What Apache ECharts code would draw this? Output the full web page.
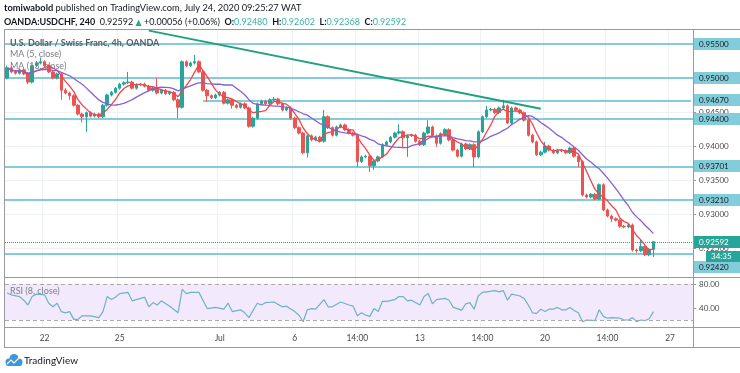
<!DOCTYPE html>
<html><head><meta charset="utf-8">
<script src="https://cdn.jsdelivr.net/npm/echarts@6/dist/echarts.min.js"></script>
<style>html,body{margin:0;padding:0;background:#fff}#c{width:740px;height:373px}</style>
</head><body><div id="c"></div>
<script>
// ---------- DATA ----------
const opens = [.9500,.9515,.9509,.9507,.9512,.9506,.9494,.9518,.9522,.9524,
.9518,.9509,.9500,.9506,.9482,.9478,.9474,.9460,.9447,.9443,
.9449,.9444,.9447,.9443,.9460,.9475,.9479,.9485,.9491,.9493,
.9494,.9485,.9490,.9491,.9488,.9482,.9485,.9478,.9482,.9477,
.9479,.9468,.9457,.9524,.9518,.9522,.9524,.9509,.9482,.9474,
.9471,.9475,.9479,.9463,.9468,.9460,.9457,.9462,.9456,.9429,
.9441,.9462,.9466,.9462,.9468,.9469,.9462,.9453,.9456,.9441,
.9427,.9419,.9390,.9415,.9409,.9413,.9407,.9443,.9427,.9416,
.9428,.9431,.9424,.9419,.9416,.9377,.9384,.9385,.9371,.9378,
.9384,.9402,.9406,.9413,.9419,.9421,.9412,.9415,.9416,.9407,
.9402,.9419,.9428,.9415,.9404,.9418,.9424,.9409,.9394,.9385,
.9403,.9396,.9402,.9384,.9421,.9443,.9453,.9454,.9449,.9456,
.9459,.9434,.9456,.9453,.9449,.9438,.9416,.9406,.9387,.9391,
.9400,.9394,.9390,.9394,.9393,.9390,.9397,.9385,.9377,.9328,
.9325,.9329,.9322,.9343,.9306,.9297,.9293,.9291,.9282,.9281,
.9284,.9247,.9246,.9252,.9240,.92480];
const closes = [.9515,.9509,.9507,.9512,.9506,.9494,.9518,.9522,.9524,.9518,
.9509,.9500,.9506,.9482,.9478,.9474,.9460,.9447,.9443,.9449,
.9444,.9447,.9443,.9460,.9475,.9479,.9485,.9491,.9493,.9494,
.9485,.9490,.9491,.9488,.9482,.9485,.9478,.9482,.9477,.9479,
.9468,.9457,.9524,.9518,.9522,.9524,.9509,.9482,.9474,.9471,
.9475,.9479,.9463,.9468,.9460,.9457,.9462,.9456,.9429,.9441,
.9462,.9466,.9462,.9468,.9469,.9462,.9453,.9456,.9441,.9427,
.9419,.9390,.9415,.9409,.9413,.9407,.9443,.9427,.9416,.9428,
.9431,.9424,.9419,.9416,.9377,.9384,.9385,.9371,.9378,.9384,
.9402,.9406,.9413,.9419,.9421,.9412,.9415,.9416,.9407,.9402,
.9419,.9428,.9415,.9404,.9418,.9424,.9409,.9394,.9385,.9403,
.9396,.9402,.9384,.9421,.9443,.9453,.9454,.9449,.9456,.9459,
.9434,.9456,.9453,.9449,.9438,.9416,.9406,.9387,.9391,.9400,
.9394,.9390,.9394,.9393,.9390,.9397,.9385,.9377,.9328,.9325,
.9329,.9322,.9343,.9306,.9297,.9293,.9291,.9282,.9281,.9284,
.9247,.9246,.9252,.9240,.9248,.92592];
const highs = [.9518,.9517,.9511,.9514,.9514,.9508,.9520,.9525,.9530,.9526,
.9520,.9511,.9508,.9508,.9485,.9480,.9476,.9462,.9449,.9451,
.9451,.9449,.9449,.9462,.9477,.9481,.9487,.9493,.9495,.9509,
.9496,.9492,.9493,.9493,.9490,.9487,.9500,.9484,.9484,.9481,
.9481,.9470,.9526,.9526,.9524,.9534,.9526,.9511,.9484,.9476,
.9477,.9481,.9481,.9470,.9470,.9462,.9464,.9464,.9458,.9443,
.9464,.9468,.9468,.9470,.9472,.9471,.9464,.9458,.9458,.9443,
.9429,.9421,.9417,.9417,.9415,.9415,.9453,.9445,.9429,.9430,
.9433,.9433,.9426,.9421,.9418,.9386,.9387,.9387,.9380,.9386,
.9404,.9408,.9415,.9421,.9432,.9423,.9417,.9418,.9418,.9409,
.9421,.9438,.9430,.9417,.9420,.9426,.9426,.9411,.9396,.9405,
.9405,.9404,.9404,.9423,.9445,.9459,.9456,.9456,.9458,.9468,
.9461,.9458,.9458,.9455,.9451,.9440,.9418,.9408,.9393,.9406,
.9402,.9396,.9396,.9396,.9395,.9399,.9399,.9387,.9379,.9330,
.9331,.9331,.9345,.9345,.9308,.9299,.9295,.9293,.9284,.9286,
.9286,.9249,.9262,.9254,.9250,.92602];
const lows = [.9498,.9507,.9505,.9505,.9504,.9491,.9492,.9516,.9520,.9516,
.9507,.9498,.9498,.9468,.9476,.9468,.9458,.9445,.9435,.9421,
.9442,.9442,.9441,.9441,.9458,.9473,.9477,.9483,.9489,.9491,
.9483,.9483,.9488,.9486,.9480,.9480,.9476,.9476,.9475,.9475,
.9466,.9441,.9455,.9516,.9516,.9520,.9507,.9480,.9465,.9469,
.9469,.9473,.9461,.9461,.9455,.9455,.9455,.9454,.9427,.9427,
.9439,.9460,.9460,.9460,.9466,.9460,.9451,.9451,.9438,.9425,
.9417,.9388,.9383,.9407,.9407,.9405,.9405,.9425,.9414,.9414,
.9426,.9422,.9417,.9414,.9369,.9375,.9382,.9362,.9365,.9376,
.9382,.9400,.9404,.9411,.9417,.9397,.9384,.9413,.9405,.9400,
.9400,.9417,.9413,.9399,.9402,.9416,.9407,.9392,.9383,.9383,
.9394,.9394,.9369,.9382,.9419,.9441,.9451,.9447,.9447,.9454,
.9432,.9432,.9451,.9447,.9436,.9414,.9404,.9385,.9385,.9389,
.9392,.9388,.9388,.9391,.9388,.9388,.9383,.9369,.9326,.9323,
.9323,.9320,.9320,.9304,.9295,.9288,.9289,.9280,.9279,.9279,
.9245,.9243,.9244,.9238,.9238,.92368];
// RSI(8) vertices: [slot, value]
const rsiPoints = [[0,65],[1,62],[3,59],[4,53],[5,45],[6,59],[7,63],[9,62],[10,48],[11,42],[12,48],[13,34],[14,32],[15,34],[16,21],[17,21],[18,27],[20,27],[22,24],[23,34],[24,59],[25,54],[26,58],[27,64],[29,66],[30,52],[31,54],[33,58],[34,42],[35,49],[36,45],[37,52],[39,43],[41,32],[42,71],[43,64],[44,66],[46,66],[48,39],[50,41],[52,38],[53,48],[54,34],[56,37],[57,32],[58,24],[60,48],[61,45],[62,49],[64,50],[66,42],[67,43],[69,34],[70,28],[71,17],[72,37],[73,39],[74,38],[76,54],[77,42],[78,42],[80,50],[82,45],[83,43],[84,27],[85,32],[86,28],[87,26],[88,39],[89,34],[90,51],[91,51],[93,54],[94,59],[95,59],[96,52],[97,53],[99,45],[100,59],[101,64],[102,47],[103,54],[105,56],[106,53],[107,41],[108,39],[109,36],[110,47],[111,49],[112,38],[113,60],[114,66],[115,67],[117,69],[118,67],[119,69],[120,53],[121,63],[123,60],[124,56],[125,45],[126,32],[127,31],[128,38],[129,34],[130,38],[131,38],[132,41],[133,37],[134,37],[135,41],[136,36],[137,32],[138,17],[139,20],[141,19],[142,37],[143,26],[144,23],[145,24],[147,23],[148,20],[149,20],[150,24],[151,17],[152,20],[153,19],[154,22],[155,34]];
const tickIdx = [9,27,51,69,84,99,114,129,144,159];
const tickText = ['22','25','Jul','6','14:00','13','14:00','20','14:00','27'];
const priceTicks = [0.955,0.950,0.945,0.940,0.935,0.930,0.925];
const levels = [0.955,0.950,0.944,0.93701,0.9321,0.9242];
const partialLevel = {startSlot:47, endSlot:164, price:0.9467};
const trendLine = [[34,0.95697],[128,0.94548]];
const rsiTicks = [40,80];
const rsiBand = [20,80];
const SLOTS = 165;
const MA_FAST = 5, MA_SLOW = 13;

// ---------- CHART ----------
const FONT = 'Lato, "DejaVu Sans", sans-serif';
const UP='#26a69a', DOWN='#ef5350', LEVEL='#82cdd9', FRAME='#9a9a9a', TXT='#4a4a4a', GRID='#edf1f7';
const chart = echarts.init(document.getElementById('c'), null, {renderer:'canvas'});
const cats = Array.from({length:SLOTS}, (_, i) => String(i));
const candle = closes.map((c, i) => [opens[i], c, lows[i], highs[i]]);
function ma(n){
  return closes.map((_, i) => { const s = Math.max(0, i-n+1); let t = 0; for (let j=s;j<=i;j++) t += closes[j]; return +(t/(i-s+1)).toFixed(5); });
}
const isTick = (i) => tickIdx.indexOf(i) >= 0;
const last = closes.length - 1;

const option = {
  animation:false,
  backgroundColor:'#ffffff',
  textStyle:{fontFamily:FONT},
  grid:[{left:5,right:47,top:30,height:248},{left:5,right:47,top:278,height:49}],
  xAxis:[
    {type:'category', gridIndex:0, data:cats, boundaryGap:true,
     axisLine:{show:false}, axisTick:{show:false}, axisLabel:{show:false},
     splitLine:{show:true, interval:(i)=>isTick(i), lineStyle:{color:GRID, width:1}}},
    {type:'category', gridIndex:1, data:cats, boundaryGap:true,
     axisLine:{show:false}, axisTick:{show:false},
     axisLabel:{show:true, interval:(i)=>isTick(i), formatter:(v)=>tickText[tickIdx.indexOf(+v)], color:TXT, fontSize:8.5, margin:7, fontFamily:FONT},
     splitLine:{show:true, interval:(i)=>isTick(i), lineStyle:{color:GRID, width:1}}}
  ],
  yAxis:[
    {type:'value', gridIndex:0, position:'right', min:0.92059, max:0.95706, scale:true,
     axisLine:{show:false}, axisTick:{show:true, length:3, customValues:priceTicks, lineStyle:{color:FRAME}},
     axisLabel:{customValues:priceTicks, formatter:(v)=>v.toFixed(5), color:TXT, fontSize:8, margin:6, fontFamily:FONT},
     splitLine:{show:true, lineStyle:{color:GRID}}},
    {type:'value', gridIndex:1, position:'right', min:8.33, max:90,
     axisLine:{show:false}, axisTick:{show:true, length:3, customValues:rsiTicks, lineStyle:{color:FRAME}},
     axisLabel:{customValues:rsiTicks, formatter:(v)=>v.toFixed(2), color:TXT, fontSize:8, margin:6, fontFamily:FONT},
     splitLine:{show:false}}
  ],
  series:[
    {type:'candlestick', xAxisIndex:0, yAxisIndex:0, data:candle, barWidth:3, z:3,
     itemStyle:{color:UP, color0:DOWN, borderColor:UP, borderColor0:DOWN, borderWidth:1},
     markLine:{silent:true, precision:5, symbol:['none','none'], label:{show:false}, z:2,
       data: levels.map(v => ({yAxis:v, lineStyle:{color:LEVEL, width:2, type:'solid'}}))
         .concat([[{coord:[partialLevel.startSlot, partialLevel.price], lineStyle:{color:LEVEL, width:2, type:'solid'}},
                   {coord:[partialLevel.endSlot, partialLevel.price]}]])
         .concat([{yAxis:closes[last], lineStyle:{color:UP, width:1, type:'dotted'}}])
     }},
    {type:'line', name:'MA5', xAxisIndex:0, yAxisIndex:0, data:ma(MA_FAST), symbol:'none', z:4,
     lineStyle:{color:'#f0444e', width:1.3}},
    {type:'line', name:'MA13', xAxisIndex:0, yAxisIndex:0, data:ma(MA_SLOW), symbol:'none', z:4,
     lineStyle:{color:'#8a5fd3', width:1.3}},
    {type:'line', name:'Trend', xAxisIndex:0, yAxisIndex:0, data:trendLine, symbol:'none', z:5,
     lineStyle:{color:'#22a07e', width:2}},
    {type:'line', name:'RSI', xAxisIndex:1, yAxisIndex:1, data:rsiPoints, symbol:'none', z:4,
     lineStyle:{color:'#6cb2cb', width:1.2},
     markArea:{silent:true, itemStyle:{color:'#f3e9fc'}, data:[[{yAxis:rsiBand[0]},{yAxis:rsiBand[1]}]]},
     markLine:{silent:true, precision:2, symbol:['none','none'], label:{show:false},
       data: rsiBand.map(v => ({yAxis:v, lineStyle:{color:'#aaaaaa', width:1, type:[4,3]}}))}}
  ]
};
chart.setOption(option);

// ---------- decorations / texts ----------
const gfx = [];
function hline(x1,x2,y,color){ gfx.push({type:'line', shape:{x1:x1,y1:y+0.5,x2:x2,y2:y+0.5}, style:{stroke:color, lineWidth:1}, z:50, silent:true}); }
function vline(x,y1,y2,color){ gfx.push({type:'line', shape:{x1:x+0.5,y1:y1,x2:x+0.5,y2:y2}, style:{stroke:color, lineWidth:1}, z:50, silent:true}); }
hline(4,740,29,FRAME); hline(4,740,277,FRAME); hline(4,740,327,FRAME); hline(4,740,347,FRAME);
vline(4,29,348,FRAME); vline(693,29,348,FRAME);

function txt(x,y,text,opts){
  gfx.push({type:'text', x:x, y:y, z:120, silent:true,
    style:Object.assign({text:text, fill:'#131722', fontSize:9, fontFamily:FONT, textVerticalAlign:'middle', verticalAlign:'middle', textAlign:'left', align:'left'}, opts||{})});
}
// header
txt(4,8,'{b|tomiwabold} published on TradingView.com, July 24, 2020 09:25:27 WAT',
  {fill:'#131722', fontSize:9.3, rich:{b:{fontWeight:'bold', fontSize:9.3, fontFamily:FONT, fill:'#131722'}}});
txt(4,22,'{b|OANDA:USDCHF, 240}  0.92592 {g|▲} +0.00056 (+0.06%)  {b|O:}{t|0.92480}  {b|H:}{t|0.92602}  {b|L:}{t|0.92368}  {b|C:}{t|0.92592}',
  {rich:{b:{fontWeight:'bold', fontSize:9, fontFamily:FONT, fill:'#131722'}, g:{fill:UP, fontSize:8, fontFamily:FONT}, t:{fill:'#3bb3a3', fontSize:9, fontFamily:FONT}}});
// pane legends
txt(10,43,'U.S. Dollar / Swiss Franc, 4h, OANDA',{fill:'#555a66', fontWeight:'bold'});
txt(10,54,'MA (5, close)',{fill:'#7a7d86'});
txt(10,66,'MA (13, close)',{fill:'#7a7d86'});
txt(10,291,'RSI (8, close)',{fill:'#7a7d86'});

// right-axis level boxes
function box(x,yc,w,fill,text,color){
  gfx.push({type:'rect', shape:{x:x, y:Math.round(yc)-6, width:w, height:12}, style:{fill:fill}, z:110, silent:true});
  gfx.push({type:'text', x:x+5, y:Math.round(yc), z:111, silent:true,
    style:{text:text, fill:color, fontSize:8, fontFamily:FONT, textVerticalAlign:'middle', verticalAlign:'middle'}});
}
const allLevels = levels.concat([partialLevel.price]);
allLevels.forEach(v => {
  let y = chart.convertToPixel({yAxisIndex:0}, v);
  if (v === 0.9242) y += 14;
  box(694, y, 46, LEVEL, v.toFixed(5), '#131722');
});
const yCur = chart.convertToPixel({yAxisIndex:0}, closes[last]);
box(694, yCur, 46, UP, closes[last].toFixed(5), '#ffffff');
gfx.push({type:'rect', shape:{x:706, y:Math.round(yCur)+9, width:34, height:11}, style:{fill:UP}, z:112, silent:true});
gfx.push({type:'text', x:711, y:Math.round(yCur)+14.5, z:113, silent:true,
  style:{text:'34:35', fill:'#ffffff', fontSize:8, fontFamily:FONT, textVerticalAlign:'middle', verticalAlign:'middle'}});

// TradingView logo
gfx.push({type:'group', z:120, silent:true, children:[
  {type:'circle', shape:{cx:9, cy:362, r:3.5}, style:{fill:'#3f97d8'}},
  {type:'circle', shape:{cx:14, cy:358.5, r:4.5}, style:{fill:'#3f97d8'}},
  {type:'circle', shape:{cx:19, cy:362, r:3.5}, style:{fill:'#3f97d8'}},
  {type:'rect', shape:{x:6, y:361, width:16, height:5, r:2}, style:{fill:'#3f97d8'}},
  {type:'polyline', shape:{points:[[7,364],[11,360],[14,363],[19,358]]}, style:{stroke:'#ffffff', lineWidth:1.2, fill:null}}
]});
txt(24,361,'TradingView',{fontSize:10, fill:'#131722'});

chart.setOption({graphic:gfx});
</script>
</body></html>
